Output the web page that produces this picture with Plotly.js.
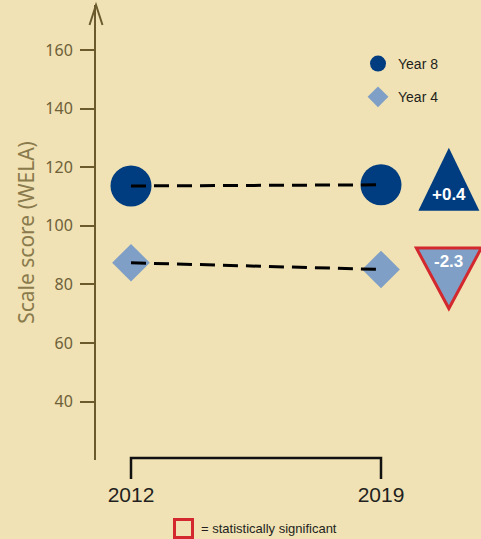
<!DOCTYPE html>
<html>
<head>
<meta charset="utf-8">
<script src="https://cdn.plot.ly/plotly-3.0.1.min.js"></script>
<style>
  html, body { margin: 0; padding: 0; background: #f0e2b4; }
  #chart { width: 481px; height: 539px; }
</style>
</head>
<body>
<div id="chart"></div>
<script>
// ---- data ----
const years = [2012, 2019];
const yearLabels = ['2012', '2019'];
const year8 = [113.6, 114.0];
const year4 = [87.4, 85.1];
const seriesNames = ['Year 8', 'Year 4'];
const changeLabels = ['+0.4', '-2.3'];
const changeSignificant = [false, true];
const yTicks = [40, 60, 80, 100, 120, 140, 160];

// ---- styles / positions ----
const BG = '#f0e2b4';
const NAVY = '#003c80';
const LIGHT = '#7f9fc6';
const RED = '#d3282e';
const AXIS = '#6b5a2c';
const changeX = 2020.9;

const traces = [
  {
    x: years, y: year8, name: seriesNames[0], type: 'scatter', mode: 'markers',
    marker: { symbol: 'circle', size: 41, color: NAVY }, legendgroup: 'a'
  },
  {
    x: years, y: year4, name: seriesNames[1], type: 'scatter', mode: 'markers',
    marker: { symbol: 'diamond', size: 29, color: LIGHT }, legendgroup: 'b'
  },
  {
    x: years, y: year8, type: 'scatter', mode: 'lines', showlegend: false, hoverinfo: 'skip',
    line: { color: '#000', width: 3, dash: '15px,8px' }
  },
  {
    x: years, y: year4, type: 'scatter', mode: 'lines', showlegend: false, hoverinfo: 'skip',
    line: { color: '#000', width: 3, dash: '15px,8px' }
  }
];

const last8 = year8[year8.length - 1];
const last4 = year4[year4.length - 1];
const shapes = [
  // change triangles
  {
    type: 'path', xref: 'x', yref: 'y', xsizemode: 'pixel', ysizemode: 'pixel',
    xanchor: changeX, yanchor: last8,
    path: 'M0,37 L30.5,-26 L-30.5,-26 Z',
    fillcolor: NAVY, line: { width: changeSignificant[0] ? 3 : 0, color: RED }
  },
  {
    type: 'path', xref: 'x', yref: 'y', xsizemode: 'pixel', ysizemode: 'pixel',
    xanchor: changeX, yanchor: last4,
    path: 'M-32.5,21.5 L32.5,21.5 L0,-39 Z',
    fillcolor: LIGHT, line: { width: changeSignificant[1] ? 3 : 0, color: RED }
  },
  // arrow head on y axis
  {
    type: 'path', xref: 'paper', yref: 'paper', xsizemode: 'pixel', ysizemode: 'pixel',
    xanchor: 0, yanchor: 1,
    path: 'M-6.5,-20 L0,0 L6.5,-20',
    line: { color: AXIS, width: 2 }
  },
  // bracket under x
  {
    type: 'path', xref: 'x', yref: 'paper', ysizemode: 'pixel', yanchor: 0,
    path: 'M' + years[0] + ',-19 L' + years[0] + ',2 L' + years[years.length - 1] + ',2 L' + years[years.length - 1] + ',-19',
    line: { color: '#111', width: 2.5 }
  },
  // significance key square
  {
    type: 'rect', xref: 'paper', yref: 'paper', xsizemode: 'pixel', ysizemode: 'pixel',
    xanchor: 0, yanchor: 0, x0: 78.5, x1: 96.5, y0: -59.5, y1: -77.5,
    line: { color: RED, width: 3 }, fillcolor: 'rgba(0,0,0,0)'
  }
];

const annotations = [
  {
    x: changeX, y: last8, xref: 'x', yref: 'y', text: '<b>' + changeLabels[0] + '</b>', showarrow: false,
    yshift: -10, font: { family: 'Liberation Sans, Arial, sans-serif', size: 17, color: '#fff' }
  },
  {
    x: changeX, y: last4, xref: 'x', yref: 'y', text: '<b>' + changeLabels[1] + '</b>', showarrow: false,
    yshift: 8, font: { family: 'Liberation Sans, Arial, sans-serif', size: 17, color: '#fff' }
  },
  {
    x: 103 / 385, y: -68 / 455, xref: 'paper', yref: 'paper', xanchor: 'left', yanchor: 'middle',
    text: '= statistically significant', showarrow: false,
    font: { family: 'Liberation Sans, Arial, sans-serif', size: 13, color: '#231f20' }
  }
];

const layout = {
  width: 481, height: 539,
  paper_bgcolor: BG, plot_bgcolor: BG,
  margin: { l: 96, r: 0, t: 5, b: 79, pad: 0, autoexpand: false },
  showlegend: true,
  legend: {
    xref: 'container', yref: 'container', x: 358 / 481, y: 1 - 48 / 539,
    xanchor: 'left', yanchor: 'top', bgcolor: 'rgba(0,0,0,0)',
    tracegroupgap: 12, traceorder: 'grouped',
    font: { family: 'Liberation Sans, Arial, sans-serif', size: 14, color: '#231f20' }
  },
  xaxis: {
    range: [2011.02, 2021.8], showgrid: false, zeroline: false, showline: false,
    tickvals: years, ticktext: yearLabels, ticks: '', ticklabelstandoff: 20,
    tickfont: { family: 'Liberation Sans, Arial, sans-serif', size: 21, color: '#231f20' }
  },
  yaxis: {
    range: [20.1, 175.35], showgrid: false, zeroline: false,
    showline: true, linecolor: AXIS, linewidth: 2,
    ticks: 'outside', ticklen: 14, tickwidth: 2, tickcolor: AXIS,
    tickvals: yTicks, ticklabelstandoff: 4,
    tickfont: { family: 'Noto Sans, sans-serif', size: 16, color: '#6e6038' },
    title: { text: 'Scale score (WELA)', standoff: 5,
      font: { family: 'Noto Sans, sans-serif', size: 21, color: '#8a7a4c' } }
  },
  shapes: shapes,
  annotations: annotations
};

Plotly.newPlot('chart', traces, layout, { staticPlot: true, displayModeBar: false });
</script>
</body>
</html>
